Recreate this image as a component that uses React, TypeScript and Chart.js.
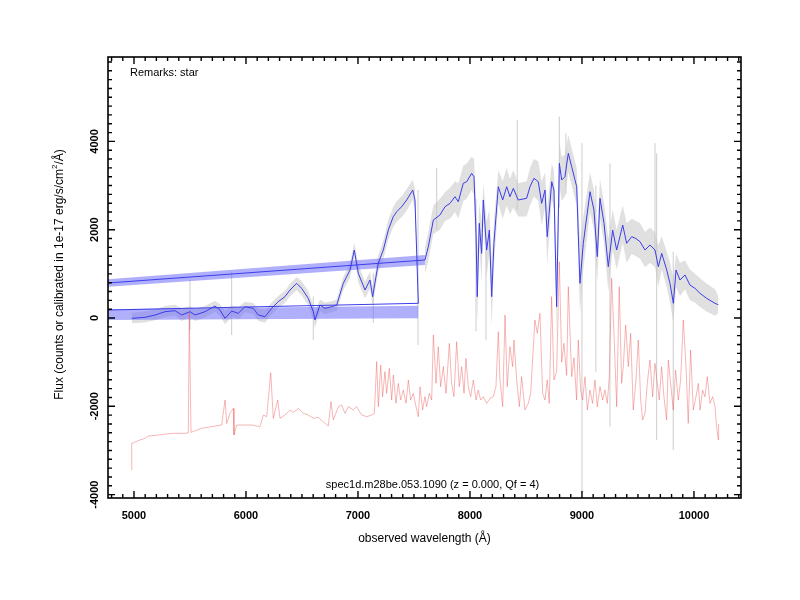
import React, { useEffect, useRef } from "react";
import { Chart, registerables } from "chart.js";

Chart.register(...registerables);

// ---------- data ----------
// smoothed spectrum, blue CCD chip
const blueChipWl = [4980, 5098, 5188, 5277, 5366, 5426, 5500, 5545, 5634, 5723, 5768, 5813, 5872, 5931, 5991, 6065, 6110, 6170, 6229, 6288, 6348, 6393, 6453, 6497, 6556, 6601, 6616, 6661, 6705, 6765, 6810, 6869, 6929, 6967, 7003, 7063, 7107, 7131, 7181, 7226, 7271, 7315, 7346, 7390, 7435, 7489, 7509, 7539];
const blueChipFlux = [-8, 16, 68, 143, 166, 68, 143, 68, 143, 272, 181, -8, 158, 106, 256, 219, 68, 30, 219, 370, 483, 634, 785, 672, 446, 143, -45, 294, 219, 256, 294, 785, 1087, 1540, 1012, 634, 861, 483, 1239, 1540, 1993, 2294, 2408, 2521, 2673, 2899, 2673, 333];
const blueChipRawHi = [120, 150, 190, 270, 300, 220, 270, 210, 270, 390, 310, 160, 290, 250, 370, 340, 210, 180, 350, 500, 620, 770, 930, 830, 610, 290, 150, 420, 350, 380, 420, 930, 1250, 1700, 1220, 820, 1050, 700, 1420, 1750, 2220, 2520, 2650, 2760, 2920, 3130, 2920, 550];
const blueChipRawLo = [-120, -100, -50, 20, 50, -70, 20, -70, 10, 140, 50, -140, 30, -30, 130, 90, -70, -110, 80, 230, 340, 490, 630, 510, 280, -20, -220, 160, 90, 130, 160, 630, 910, 1380, 810, 450, 670, 280, 1050, 1330, 1780, 2060, 2180, 2290, 2430, 2680, 2430, 130];

// padding point between the chips (drawn off the left edge)
const padWl = [20];
const padFlux = [-80];

// smoothed spectrum, red CCD chip
const redChipWl = [7598, 7628, 7673, 7732, 7777, 7822, 7866, 7896, 7940, 7971, 8015, 8036, 8054, 8065, 8083, 8104, 8119, 8149, 8173, 8194, 8214, 8253, 8292, 8328, 8357, 8387, 8431, 8506, 8536, 8571, 8610, 8640, 8670, 8690, 8730, 8750, 8774, 8798, 8819, 8848, 8878, 8908, 8953, 8982, 9012, 9072, 9107, 9137, 9161, 9197, 9235, 9274, 9310, 9364, 9399, 9444, 9482, 9518, 9563, 9607, 9652, 9682, 9712, 9757, 9786, 9816, 9840, 9875, 9920, 9964, 10009, 10054, 10113, 10188, 10217];
const redChipFlux = [1314, 1615, 2220, 2333, 2521, 2597, 2748, 2634, 3051, 3088, 3277, 3200, 1918, 483, 2145, 1465, 2673, 1540, 1993, 483, 1692, 2974, 2673, 2974, 2748, 2937, 2673, 2711, 2974, 3164, 3088, 2597, 2899, 1842, 3088, 2900, 256, 3504, 3126, 3200, 3730, 3427, 2974, 785, 1692, 2861, 2446, 1389, 2711, 2145, 1162, 1993, 1540, 2106, 1692, 1842, 1800, 1729, 1540, 1653, 1540, 1162, 1465, 1087, 785, 333, 1087, 861, 974, 747, 672, 559, 446, 333, 300];
const redChipRawHi = [1600, 1950, 2550, 2700, 2850, 2950, 3100, 3050, 3450, 3500, 3650, 3600, 2700, 1500, 2600, 2200, 3050, 2200, 2450, 1300, 2200, 3350, 3100, 3400, 3150, 3350, 3050, 3100, 3400, 3600, 3550, 3100, 3300, 2500, 3500, 3350, 1200, 4000, 3650, 3700, 4150, 3850, 3400, 1700, 2300, 3300, 2900, 2000, 3150, 2600, 1800, 2450, 2000, 2550, 2150, 2250, 2200, 2150, 1950, 2050, 1950, 1650, 1850, 1500, 1250, 900, 1450, 1250, 1300, 1100, 1000, 900, 780, 650, 500];
const redChipRawLo = [1000, 1300, 1900, 2000, 2200, 2250, 2400, 2250, 2650, 2700, 2900, 2800, 1200, -100, 1700, 800, 2250, 900, 1500, -200, 1200, 2600, 2250, 2550, 2350, 2500, 2300, 2300, 2550, 2750, 2650, 2100, 2500, 1200, 2700, 2450, -400, 3000, 2650, 2750, 3300, 3000, 2550, 100, 1100, 2400, 2000, 800, 2250, 1700, 600, 1550, 1100, 1700, 1250, 1450, 1400, 1350, 1150, 1250, 1150, 700, 1100, 700, 350, -100, 700, 500, 650, 400, 350, 250, 150, 50, 100];

// isolated raw-flux spikes (gray vertical strokes)
const spikeWl = [5500, 5872, 6601, 7137, 7536, 7703, 8054, 8143, 8422, 8798, 8857, 9000, 9124, 9250, 9652, 9667, 9815];
const spikeLo = [-272, -385, -498, -113, -611, 2000, -300, -500, 2446, 2500, 2800, -3960, -1216, -2462, 1500, -2763, -2990];
const spikeHi = [860, 1050, 482, 1020, 2900, 3400, 2700, 1540, 4485, 4560, 4183, 3960, 3000, 3500, 3960, 3730, 1500];

// model bands (blue shaded strips)
const upperBandWl = [4700, 7598];
const upperBandHi = [864, 1427];
const upperBandLo = [698, 1200];
const lowerBandWl = [4700, 7539];
const lowerBandHi = [195, 279];
const lowerBandLo = [-46, -8];

// sky / error spectrum (red), blue-chip part
const skyBlueWl = [4979, 4980, 5054, 5099, 5128, 5218, 5337, 5456, 5485, 5494, 5509, 5604, 5694, 5783, 5813, 5828, 5857, 5887, 5893, 5917, 6051, 6125, 6155, 6185, 6221, 6244, 6283, 6304, 6348, 6393, 6423, 6468, 6512, 6557, 6601, 6646, 6706, 6735, 6759, 6780, 6825, 6854, 6884, 6914, 6958, 6988, 7033, 7078, 7122, 7146];
const skyBlueFlux = [-3443, -2839, -2763, -2726, -2673, -2650, -2612, -2612, -2600, 106, -2590, -2499, -2461, -2424, -1857, -2390, -2160, -2046, -2650, -2424, -2424, -2461, -2197, -2235, -1239, -2273, -1857, -2273, -2197, -2084, -2140, -2046, -2160, -2197, -2273, -2250, -2386, -2446, -1895, -2310, -2008, -1971, -2160, -2008, -2084, -2008, -2197, -2235, -2197, -2160];
// sky / error spectrum (red), red-chip part
const skyRedWl = [7167, 7182, 7203, 7220, 7241, 7256, 7280, 7301, 7316, 7339, 7360, 7381, 7405, 7429, 7450, 7470, 7494, 7518, 7539, 7554, 7577, 7598, 7613, 7637, 7658, 7673, 7697, 7717, 7738, 7762, 7786, 7816, 7836, 7857, 7881, 7905, 7926, 7947, 7964, 7985, 8006, 8030, 8054, 8074, 8095, 8119, 8149, 8179, 8208, 8232, 8253, 8268, 8292, 8313, 8333, 8357, 8381, 8393, 8417, 8441, 8461, 8491, 8521, 8542, 8566, 8580, 8601, 8625, 8649, 8670, 8690, 8708, 8729, 8750, 8774, 8798, 8819, 8839, 8863, 8878, 8908, 8929, 8952, 8967, 8988, 9006, 9027, 9048, 9071, 9095, 9116, 9137, 9161, 9185, 9205, 9226, 9244, 9265, 9286, 9310, 9333, 9354, 9369, 9390, 9414, 9435, 9458, 9482, 9503, 9524, 9542, 9563, 9583, 9607, 9631, 9652, 9673, 9690, 9711, 9732, 9756, 9771, 9792, 9815, 9836, 9860, 9881, 9905, 9929, 9949, 9970, 9994, 10018, 10039, 10054, 10077, 10098, 10119, 10143, 10167, 10188, 10202, 10217, 10220];
const skyRedFlux = [-989, -2008, -1065, -1782, -1216, -1706, -1140, -1857, -1291, -1933, -1480, -1857, -1631, -1933, -1404, -1857, -1706, -2008, -2235, -1555, -2084, -1782, -2008, -1706, -1857, -385, -1480, -649, -1555, -1102, -1706, -574, -1480, -1782, -536, -1555, -1102, -1706, -914, -1555, -1782, -1404, -1857, -1631, -1857, -1782, -1933, -1820, -1782, -1555, -310, -1404, -2008, 68, -1555, -649, -1102, -498, -1404, -2008, -1329, -2084, -1933, -1706, -649, -45, -347, 106, -1706, -1857, -1404, -1933, 483, -1404, -1200, 1275, -1000, -574, -1300, 709, -1329, -900, -1857, -500, -1631, -1857, -1329, -2084, -1631, -1933, -1404, -2008, -1555, -1857, -1631, -1933, -1329, 899, -347, -2008, 709, -1480, -1102, -159, -1102, -347, -2084, -1404, -498, -1857, -2310, -2159, -1480, -951, -1782, -1027, -1480, -1857, -1102, -1782, -2310, -951, -1480, -2084, -1178, -1857, -1404, -45, -1102, -2386, -725, -2084, -1782, -1480, -2084, -1631, -1782, -1329, -1933, -1782, -2008, -2461, -2763, -2400];

// axes
const xTickLabels = [5000, 6000, 7000, 8000, 9000, 10000];
const yTickLabels = [-4000, -2000, 0, 2000, 4000];
const X_MIN = 4768;
const X_MAX = 10420;
const Y_MIN = -4077;
const Y_MAX = 5912;
const X_MINOR = 100;
const Y_MINOR = 200;

const remarks = "Remarks: star";
const objectLabel = "spec1d.m28be.053.1090 (z = 0.000, Qf = 4)";
const xTitle = "observed wavelength (\u00C5)";
const yTitleA = "Flux (counts or calibrated in 1e-17 erg/s/cm";
const yTitleSup = "2";
const yTitleB = "/\u00C5)";

const FONT = '"Liberation Sans", Arial, Helvetica, sans-serif';

function pts(wl: number[], f: number[]) {
  return wl.map((x, i) => ({ x, y: f[i] }));
}

const framePlugin = {
  id: "frame",
  afterDraw(chart: any) {
    const { ctx, chartArea: a } = chart;
    const xs = chart.scales.x;
    const ys = chart.scales.y;
    ctx.save();
    ctx.strokeStyle = "#000";
    ctx.lineWidth = 1.6;
    ctx.strokeRect(a.left, a.top, a.right - a.left, a.bottom - a.top);
    ctx.lineWidth = 1.4;
    ctx.beginPath();
    const x0 = Math.ceil(X_MIN / X_MINOR) * X_MINOR;
    for (let v = x0; v <= X_MAX; v += X_MINOR) {
      const px = xs.getPixelForValue(v);
      const len = v % 1000 === 0 ? 7 : 4;
      ctx.moveTo(px, a.bottom);
      ctx.lineTo(px, a.bottom - len);
      ctx.moveTo(px, a.top);
      ctx.lineTo(px, a.top + len);
    }
    const y0 = Math.ceil(Y_MIN / Y_MINOR) * Y_MINOR;
    for (let v = y0; v <= Y_MAX; v += Y_MINOR) {
      const py = ys.getPixelForValue(v);
      const len = v % 2000 === 0 ? 7 : 4;
      ctx.moveTo(a.left, py);
      ctx.lineTo(a.left + len, py);
      ctx.moveTo(a.right, py);
      ctx.lineTo(a.right - len, py);
    }
    ctx.stroke();

    ctx.fillStyle = "#000";
    ctx.font = "bold 11px " + FONT;
    ctx.textAlign = "center";
    ctx.textBaseline = "middle";
    xTickLabels.forEach((v) => {
      ctx.fillText(String(v), xs.getPixelForValue(v), a.bottom + 18);
    });
    yTickLabels.forEach((v) => {
      ctx.save();
      ctx.translate(a.left - 13, ys.getPixelForValue(v));
      ctx.rotate(-Math.PI / 2);
      ctx.fillText(String(v), 0, 0);
      ctx.restore();
    });

    ctx.font = "12px " + FONT;
    ctx.fillText(xTitle, (a.left + a.right) / 2, a.bottom + 41);

    // y title with superscript
    ctx.save();
    ctx.translate(60, (a.top + a.bottom) / 2 - 3);
    ctx.rotate(-Math.PI / 2);
    ctx.textAlign = "left";
    ctx.font = "12px " + FONT;
    const wA = ctx.measureText(yTitleA).width;
    const wB = ctx.measureText(yTitleB).width;
    ctx.font = "8px " + FONT;
    const wS = ctx.measureText(yTitleSup).width;
    const start = -(wA + wS + wB) / 2;
    ctx.font = "12px " + FONT;
    ctx.fillText(yTitleA, start, 0);
    ctx.font = "8px " + FONT;
    ctx.fillText(yTitleSup, start + wA, -5);
    ctx.font = "12px " + FONT;
    ctx.fillText(yTitleB, start + wA + wS, 0);
    ctx.restore();

    ctx.font = "11px " + FONT;
    ctx.textAlign = "left";
    ctx.fillText(remarks, a.left + 22, a.top + 16);
    ctx.textAlign = "center";
    ctx.fillText(objectLabel, (a.left + a.right) / 2 + 8, a.bottom - 13);
    ctx.restore();
  },
};

export default function App() {
  const ref = useRef<HTMLCanvasElement | null>(null);
  useEffect(() => {
    if (!ref.current) return;
    const spikeData: any[] = [];
    spikeWl.forEach((w, i) => {
      spikeData.push({ x: w, y: spikeLo[i] });
      spikeData.push({ x: w, y: spikeHi[i] });
      spikeData.push({ x: w, y: null });
    });
    const blueLine = [
      ...pts(blueChipWl, blueChipFlux),
      ...pts(padWl, padFlux),
      ...pts(redChipWl, redChipFlux),
    ];
    const skyLine = [...pts(skyBlueWl, skyBlueFlux), ...pts(skyRedWl, skyRedFlux)];
    const band = (data: any[], order: number, fill: any, bg: string) => ({
      data,
      order,
      fill,
      backgroundColor: bg,
      borderWidth: 0,
      borderColor: "rgba(0,0,0,0)",
      pointRadius: 0,
      clip: 0,
    });
    const grayFill = "rgba(170,170,170,0.36)";
    const blueFill = "rgba(110,110,250,0.55)";
    const chart = new Chart(ref.current, {
      type: "line",
      data: {
        datasets: [
          {
            data: blueLine,
            order: 0,
            borderColor: "rgb(60,60,235)",
            borderWidth: 1,
            pointRadius: 0,
            fill: false,
            clip: 0,
          } as any,
          {
            data: skyLine,
            order: 1,
            borderColor: "rgba(235,80,80,0.6)",
            borderWidth: 0.7,
            pointRadius: 0,
            fill: false,
            clip: 0,
          },
          band(pts(upperBandWl, upperBandHi), 2, false, blueFill),
          band(pts(upperBandWl, upperBandLo), 2, "-1", blueFill),
          band(pts(lowerBandWl, lowerBandHi), 2, false, blueFill),
          band(pts(lowerBandWl, lowerBandLo), 2, "-1", blueFill),
          {
            data: spikeData,
            order: 3,
            borderColor: "rgba(200,200,200,0.9)",
            borderWidth: 1,
            pointRadius: 0,
            fill: false,
            spanGaps: false,
            clip: 0,
          },
          band(pts(blueChipWl, blueChipRawHi), 4, false, grayFill),
          band(pts(blueChipWl, blueChipRawLo), 4, "-1", grayFill),
          band(pts(redChipWl, redChipRawHi), 4, false, grayFill),
          band(pts(redChipWl, redChipRawLo), 4, "-1", grayFill),
        ],
      },
      options: {
        animation: false,
        responsive: false,
        devicePixelRatio: 1,
        layout: { padding: { left: 108, right: 59, top: 57, bottom: 102 } },
        elements: { line: { tension: 0 } },
        plugins: { legend: { display: false }, tooltip: { enabled: false } },
        scales: {
          x: { type: "linear", display: false, min: X_MIN, max: X_MAX },
          y: { type: "linear", display: false, min: Y_MIN, max: Y_MAX },
        },
      } as any,
      plugins: [framePlugin],
    });
    return () => chart.destroy();
  }, []);
  return (
    <div style={{ position: "fixed", left: 0, top: 0, width: 800, height: 600, background: "#fff" }}>
      <canvas ref={ref} width={800} height={600} style={{ width: 800, height: 600 }} />
    </div>
  );
}
